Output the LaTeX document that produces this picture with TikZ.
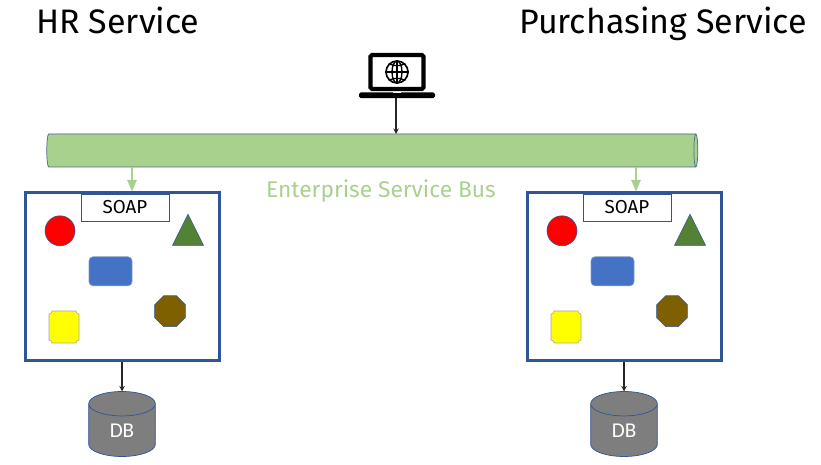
\documentclass[tikz,border=0pt]{standalone}
\usepackage{xcolor}
\usepackage{fontspec}
\setmainfont{Fira Sans}
\newfontfamily\dbfont{Carlito}
\usetikzlibrary{shapes.geometric, arrows, positioning}

\definecolor{busgreen}{HTML}{A9D18E}
\definecolor{navy}{HTML}{2F5597}
\definecolor{shapeblue}{HTML}{4472C4}
\definecolor{leaf}{HTML}{548235}
\definecolor{brownish}{HTML}{7F6000}
\definecolor{tagyellow}{HTML}{FFFF00}
\definecolor{dotred}{HTML}{FF0000}

\begin{document}
\begin{tikzpicture}[
    bus/.style={cylinder, draw=navy!60!gray, fill=busgreen, cylinder uses custom fill, cylinder body fill=busgreen, cylinder end fill=busgreen!60!white, minimum width=0.99cm, minimum height=19.53cm, aspect=0.5, outer sep=0pt, line width=0.6pt},
    service/.style={rectangle, draw=navy, line width=0.09cm, fill=white, minimum width=5.82cm, minimum height=5.04cm, outer sep=0.045cm},
    soap/.style={rectangle, draw=navy, fill=white, line width=0.6pt, minimum width=2.64cm, minimum height=0.81cm, inner sep=0pt, outer sep=0pt, font=\fontsize{16}{18}\selectfont},
    dot/.style={circle, draw=navy, fill=dotred, line width=0.5pt, minimum size=0.9cm, inner sep=0pt},
    tri/.style={isosceles triangle, isosceles triangle stretches, shape border rotate=90, draw=navy, fill=leaf, line width=0.5pt, minimum width=0.93cm, minimum height=0.93cm, inner sep=0pt},
    rrect/.style={rectangle, rounded corners=0.12cm, draw=navy!60, fill=shapeblue, line width=0.5pt, minimum width=1.29cm, minimum height=0.87cm, inner sep=0pt},
    plaque/.pic={\draw[draw=gray!70, fill=tagyellow, line width=0.5pt] (-0.36,0.48) -- (0.36,0.48) arc (180:270:0.09) -- (0.45,-0.39) arc (90:180:0.09) -- (-0.36,-0.48) arc (0:90:0.09) -- (-0.45,0.39) arc (270:360:0.09) -- cycle;},
    octa/.style={regular polygon, regular polygon sides=8, draw=navy, fill=brownish, line width=0.5pt, minimum size=1.0cm, inner sep=0pt},
    database/.style={cylinder, shape border rotate=90, draw=navy, fill=gray!99!black, aspect=1.0, minimum width=2.0cm, minimum height=1.95cm, inner sep=0pt, outer sep=0pt, line width=0.6pt, text=white, font=\dbfont\fontsize{18}{20}\selectfont},
    title/.style={font=\fontsize{29}{33}\selectfont, inner sep=0pt},
    arrow/.style={->, >=stealth, line width=1.1pt, black!85},
    busarrow/.style={->, >=triangle 45, line width=1.3pt, busgreen}
]
\useasboundingbox (0,0) rectangle (24.63,13.95);

% Titles
\node[title, anchor=base west] (hrtitle) at (1.08,12.93) {HR Service};
\node[title, anchor=base east] (purchtitle) at (24.21,12.93) {Purchasing Service};

% Laptop
\node[rectangle, draw=black, fill=white, line width=0.13cm, rounded corners=0.05cm, minimum width=1.59cm, minimum height=1.02cm, inner sep=0pt] (screen) at (11.91,11.79) {};
\node[rectangle, fill=black, rounded corners=0.05cm, minimum width=2.28cm, minimum height=0.17cm, inner sep=0pt, below=0.03cm of screen] (base) {};
\node[rectangle, fill=white, minimum width=0.24cm, minimum height=0.03cm, inner sep=0pt, below=0cm of base.north] (notch) {};
\node[circle, draw=black, line width=0.05cm, minimum size=0.66cm, inner sep=0pt] (globe) at (screen.center) {};
\node[ellipse, draw=black, line width=0.04cm, minimum width=0.3cm, minimum height=0.66cm, inner sep=0pt] (meridian) at (screen.center) {};
\draw[line width=0.04cm] (globe.north) -- (globe.south);
\draw[line width=0.04cm] (globe.west) -- (globe.east);
\draw[line width=0.04cm] (globe.north west) to[bend right=25] (globe.north east);
\draw[line width=0.04cm] (globe.south west) to[bend left=25] (globe.south east);

% Bus
\node[bus] (esb) at (11.115,9.435) {};
\node[font=\fontsize{19.4}{22}\selectfont, text=busgreen, inner sep=0pt] (esblabel) at (11.43,8.22) {Enterprise Service Bus};

% HR Service
\node[service] (hr) at (3.66,5.64) {};
\node[soap, below=0cm of hr.north, yshift=-0.075cm, xshift=0.09cm] (hrsoap) {SOAP};
\node[dot, below=0.72cm of hr.north, xshift=-1.86cm] (hrdot) {};
\node[tri, below=0.66cm of hr.north, xshift=1.98cm] (hrtri) {};
\node[rrect, below=1.95cm of hr.north, xshift=-0.345cm] (hrrect) {};
\pic at ([xshift=-1.74cm, yshift=-4.065cm]hr.north) {plaque};
\node[octa, below=3.12cm of hr.north, xshift=1.44cm] (hrocta) {};
\node[database, below=0.87cm of hr.south] (hrdb) {DB};

% Purchasing Service
\node[service] (purch) at (18.72,5.64) {};
\node[soap, below=0cm of purch.north, yshift=-0.075cm, xshift=0.09cm] (purchsoap) {SOAP};
\node[dot, below=0.72cm of purch.north, xshift=-1.86cm] (purchdot) {};
\node[tri, below=0.66cm of purch.north, xshift=1.98cm] (purchtri) {};
\node[rrect, below=1.95cm of purch.north, xshift=-0.345cm] (purchrect) {};
\pic at ([xshift=-1.74cm, yshift=-4.065cm]purch.north) {plaque};
\node[octa, below=3.12cm of purch.north, xshift=1.44cm] (purchocta) {};
\node[database, below=0.87cm of purch.south] (purchdb) {DB};

% Arrows
\draw[arrow] (base.south -| 11.88,0) -- (11.88,0 |- esb.north);
\draw[busarrow] ([xshift=0.3cm]hr.north |- esb.south) -- ([xshift=0.3cm]hr.north);
\draw[busarrow] ([xshift=0.36cm]purch.north |- esb.south) -- ([xshift=0.36cm]purch.north);
\draw[arrow] (hr.south) -- (hrdb.north);
\draw[arrow] (purch.south) -- (purchdb.north);

\end{tikzpicture}
\end{document}
